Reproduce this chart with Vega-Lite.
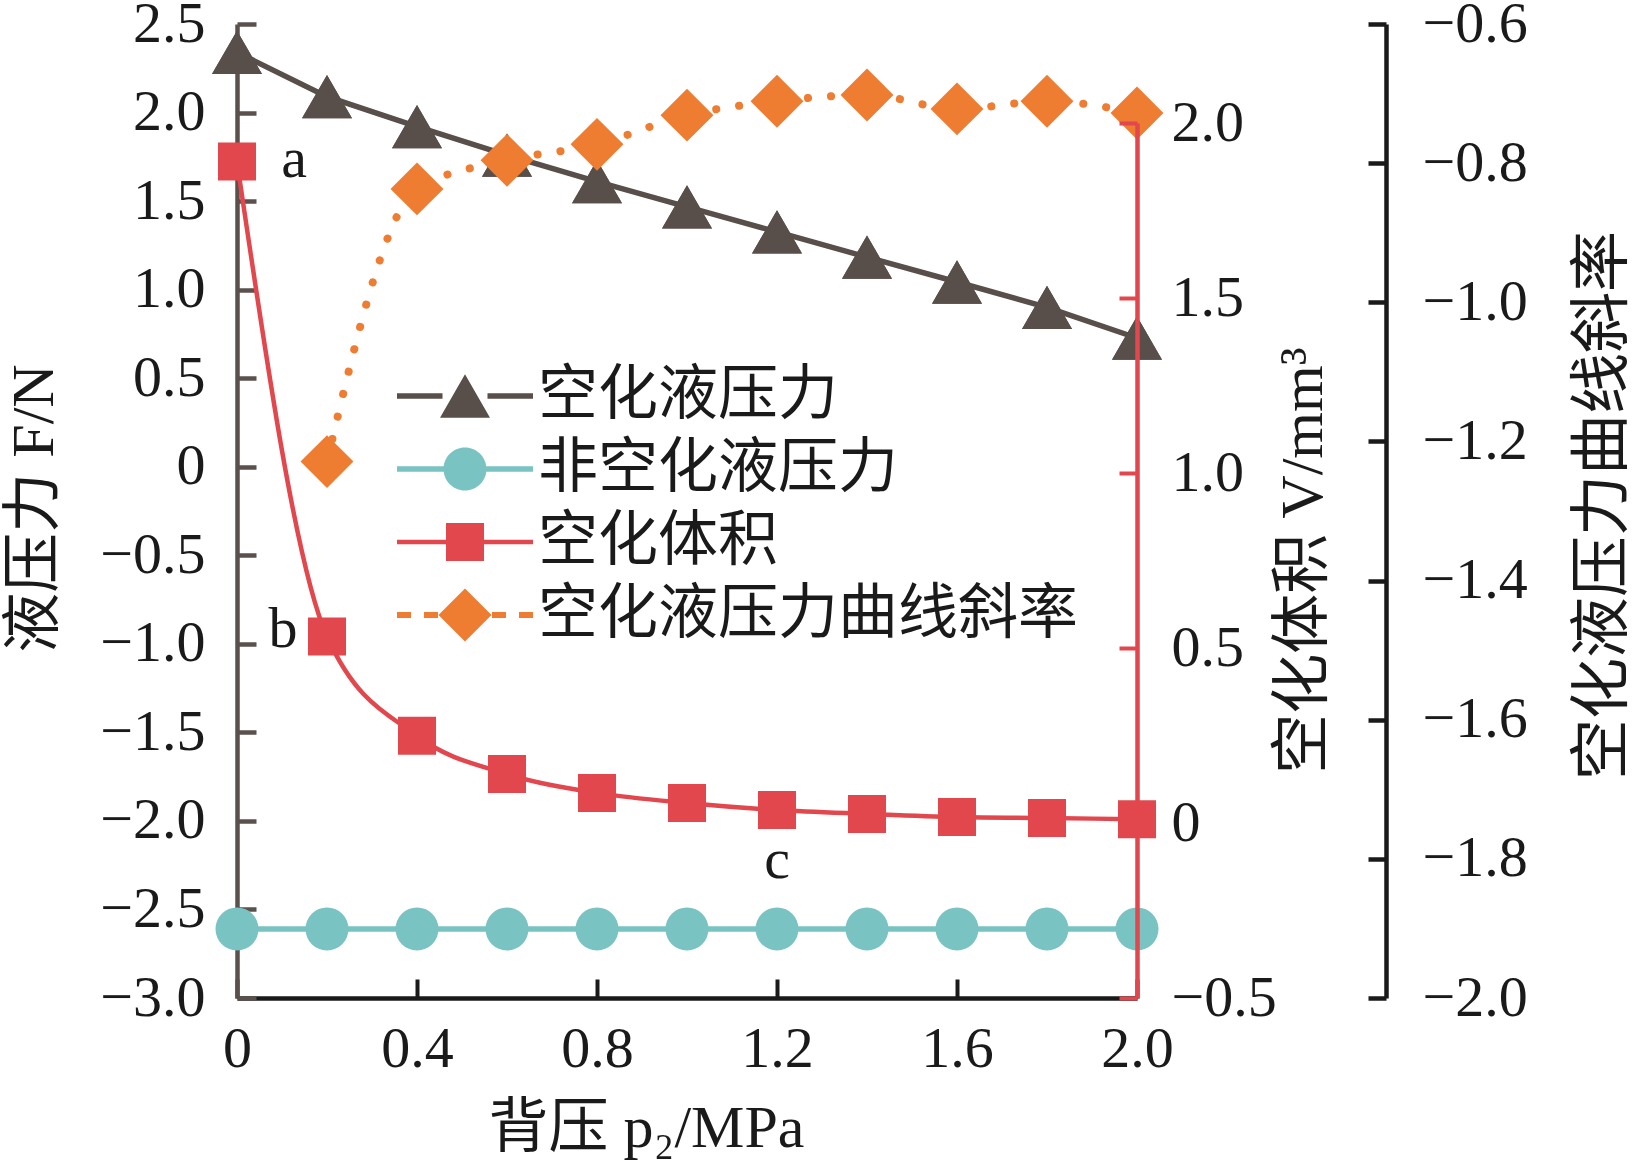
{
  "$schema": "https://vega.github.io/schema/vega-lite/v6.json",
  "width": 900,
  "height": 974,
  "autosize": "none",
  "padding": {"left": 237, "top": 24, "right": 496, "bottom": 164},
  "background": "white",
  "config": {
    "view": {"stroke": null},
    "axis": {
      "grid": false,
      "labelFont": "Liberation Serif",
      "labelFontSize": 58,
      "labelColor": "#1a1a1a",
      "titleFont": "Liberation Serif, Noto Sans CJK SC",
      "titleFontSize": 60,
      "titleFontWeight": "normal",
      "titleColor": "#1a1a1a",
      "labelFlush": false,
      "labelOverlap": false,
      "labelBound": false
    }
  },
  "datasets": {
    "main": [
      {"p": 0, "s": "空化液压力", "v": 2.34},
      {"p": 0.2, "s": "空化液压力", "v": 2.09},
      {"p": 0.4, "s": "空化液压力", "v": 1.92},
      {"p": 0.6, "s": "空化液压力", "v": 1.76},
      {"p": 0.8, "s": "空化液压力", "v": 1.61},
      {"p": 1.0, "s": "空化液压力", "v": 1.467},
      {"p": 1.2, "s": "空化液压力", "v": 1.326},
      {"p": 1.4, "s": "空化液压力", "v": 1.184},
      {"p": 1.6, "s": "空化液压力", "v": 1.043},
      {"p": 1.8, "s": "空化液压力", "v": 0.9},
      {"p": 2.0, "s": "空化液压力", "v": 0.727},
      {"p": 0, "s": "非空化液压力", "v": -2.61},
      {"p": 0.2, "s": "非空化液压力", "v": -2.61},
      {"p": 0.4, "s": "非空化液压力", "v": -2.61},
      {"p": 0.6, "s": "非空化液压力", "v": -2.61},
      {"p": 0.8, "s": "非空化液压力", "v": -2.61},
      {"p": 1.0, "s": "非空化液压力", "v": -2.61},
      {"p": 1.2, "s": "非空化液压力", "v": -2.61},
      {"p": 1.4, "s": "非空化液压力", "v": -2.61},
      {"p": 1.6, "s": "非空化液压力", "v": -2.61},
      {"p": 1.8, "s": "非空化液压力", "v": -2.61},
      {"p": 2.0, "s": "非空化液压力", "v": -2.61},
      {"p": 0, "s": "空化体积", "v": 1.89},
      {"p": 0.2, "s": "空化体积", "v": 0.533},
      {"p": 0.4, "s": "空化体积", "v": 0.249},
      {"p": 0.6, "s": "空化体积", "v": 0.14},
      {"p": 0.8, "s": "空化体积", "v": 0.086},
      {"p": 1.0, "s": "空化体积", "v": 0.057},
      {"p": 1.2, "s": "空化体积", "v": 0.037},
      {"p": 1.4, "s": "空化体积", "v": 0.026},
      {"p": 1.6, "s": "空化体积", "v": 0.017},
      {"p": 1.8, "s": "空化体积", "v": 0.014},
      {"p": 2.0, "s": "空化体积", "v": 0.011},
      {"p": 0.2, "s": "空化液压力曲线斜率", "v": -1.229},
      {"p": 0.4, "s": "空化液压力曲线斜率", "v": -0.837},
      {"p": 0.6, "s": "空化液压力曲线斜率", "v": -0.796},
      {"p": 0.8, "s": "空化液压力曲线斜率", "v": -0.773},
      {"p": 1.0, "s": "空化液压力曲线斜率", "v": -0.731},
      {"p": 1.2, "s": "空化液压力曲线斜率", "v": -0.711},
      {"p": 1.4, "s": "空化液压力曲线斜率", "v": -0.702},
      {"p": 1.6, "s": "空化液压力曲线斜率", "v": -0.722},
      {"p": 1.8, "s": "空化液压力曲线斜率", "v": -0.711},
      {"p": 2.0, "s": "空化液压力曲线斜率", "v": -0.728}
    ],
    "notes": [
      {"p": 0, "v": 1.89, "note": "a"},
      {"p": 0.2, "v": 0.533, "note": "b"},
      {"p": 1.2, "v": 0.037, "note": "c"}
    ]
  },
  "data": {"name": "main"},
  "encoding": {
    "x": {
      "field": "p",
      "type": "quantitative",
      "scale": {"domain": [0, 2], "nice": false, "zero": false},
      "axis": {
        "values": [0, 0.4, 0.8, 1.2, 1.6, 2.0],
        "labelExpr": "datum.value === 0 ? '0' : format(datum.value, '.1f')",
        "domainColor": "#1a1a1a",
        "domainWidth": 4.5,
        "tickColor": "#1a1a1a",
        "tickWidth": 4,
        "tickSize": -19,
        "labelPadding": 41,
        "title": "背压 p₂/MPa",
        "titleX": 409,
        "titleY": 130,
        "titleAlign": "center",
        "titleBaseline": "middle"
      }
    }
  },
  "layer": [
    {
      "encoding": {
        "y": {
          "field": "v",
          "type": "quantitative",
          "scale": {"domain": [-3, 2.5], "nice": false, "zero": false},
          "axis": {
            "orient": "left",
            "values": [-3, -2.5, -2, -1.5, -1, -0.5, 0, 0.5, 1, 1.5, 2, 2.5],
            "labelExpr": "datum.value === 0 ? '0' : format(datum.value, '.1f')",
            "domainColor": "#5a504c",
            "domainWidth": 4.5,
            "tickColor": "#5a504c",
            "tickWidth": 4.5,
            "tickSize": -19,
            "labelPadding": 51,
            "title": "液压力 F/N",
            "titleAngle": -90,
            "titleX": -203,
            "titleY": 484,
            "titleAlign": "center",
            "titleBaseline": "middle"
          }
        }
      },
      "layer": [
        {
          "transform": [{"filter": "datum.s === '非空化液压力'"}],
          "mark": {"type": "line", "color": "#79c3c3", "strokeWidth": 5.5},
          "encoding": {}
        },
        {
          "transform": [{"filter": "datum.s === '空化液压力'"}],
          "mark": {"type": "point", "shape": "triangle-up", "filled": true, "size": 2500, "opacity": 1},
          "encoding": {
            "color": {
              "field": "s",
              "type": "nominal",
              "scale": {
                "domain": ["空化液压力", "非空化液压力", "空化体积", "空化液压力曲线斜率"],
                "range": ["#584e4a", "#79c3c3", "#e2474d", "#ee7c31"]
              },
              "legend": {
                "orient": "none",
                "legendX": 198,
                "legendY": 342,
                "title": null,
                "padding": 0,
                "labelFont": "Noto Sans CJK SC",
                "labelFontSize": 60,
                "labelColor": "#1a1a1a",
                "labelLimit": 1000,
                "labelOffset": 43,
                "rowPadding": 13,
                "symbolSize": 2500,
                "symbolStrokeWidth": 0,
                "symbolOpacity": 1,
                "encode": {
                  "symbols": {
                    "update": {
                      "shape": {
                        "signal": "datum.value === '空化液压力' ? 'M-2.72,-0.11H-0.9V0.11H-2.72Z M0.9,-0.11H2.72V0.11H0.9Z M0,-0.866L1,0.866L-1,0.866Z' : datum.value === '非空化液压力' ? 'M-2.72,-0.11H-0.8V0.11H-2.72Z M0.8,-0.11H2.72V0.11H0.8Z M0.86,0A0.86,0.86,0,1,1,-0.86,0A0.86,0.86,0,1,1,0.86,0Z' : datum.value === '空化体积' ? 'M-2.72,-0.09H-0.76V0.09H-2.72Z M0.76,-0.09H2.72V0.09H0.76Z M-0.76,-0.76H0.76V0.76H-0.76Z' : 'M-2.72,-0.12H-2.16V0.12H-2.72Z M-1.64,-0.12H-1.08V0.12H-1.64Z M1.08,-0.12H1.64V0.12H1.08Z M2.16,-0.12H2.72V0.12H2.16Z M0,-1.06L1.06,0L0,1.06L-1.06,0Z'"
                      }
                    }
                  }
                }
              }
            }
          }
        },
        {
          "transform": [{"filter": "datum.s === '非空化液压力'"}],
          "mark": {"type": "point", "shape": "circle", "filled": true, "size": 1850, "opacity": 1},
          "encoding": {"color": {"field": "s", "type": "nominal"}}
        },
        {
          "transform": [{"filter": "datum.s === '空化液压力'"}],
          "mark": {"type": "line", "color": "#584e4a", "strokeWidth": 5.5},
          "encoding": {}
        },
        {
          "transform": [{"filter": "datum.s === '空化液压力'"}],
          "mark": {"type": "point", "shape": "triangle-up", "filled": true, "size": 2500, "opacity": 1},
          "encoding": {"color": {"field": "s", "type": "nominal"}}
        }
      ]
    },
    {
      "encoding": {
        "y": {
          "field": "v",
          "type": "quantitative",
          "scale": {"domain": [-0.5, 2], "range": [974, 99], "nice": false, "zero": false},
          "axis": {
            "orient": "right",
            "zindex": 1,
            "values": [-0.5, 0, 0.5, 1, 1.5, 2],
            "labelExpr": "datum.value === 0 ? '0' : format(datum.value, '.1f')",
            "domainColor": "#e2474d",
            "domainWidth": 4.5,
            "tickColor": "#e2474d",
            "tickWidth": 4,
            "tickSize": -18,
            "labelPadding": 52,
            "title": "空化体积 V/mm³",
            "titleFontSize": 60,
            "titleAngle": -90,
            "titleX": 166,
            "titleY": 536,
            "titleAlign": "center",
            "titleBaseline": "middle"
          }
        }
      },
      "layer": [
        {
          "transform": [{"filter": "datum.s === '空化体积'"}],
          "mark": {"type": "line", "interpolate": "monotone", "color": "#e2474d", "strokeWidth": 4.5},
          "encoding": {}
        },
        {
          "transform": [{"filter": "datum.s === '空化体积'"}],
          "mark": {"type": "point", "shape": "square", "filled": true, "size": 1444, "opacity": 1},
          "encoding": {"color": {"field": "s", "type": "nominal"}}
        },
        {
          "data": {"name": "notes"},
          "transform": [{"filter": "datum.note === 'a'"}],
          "mark": {"type": "text", "font": "Liberation Serif", "fontSize": 58, "color": "#1a1a1a", "align": "center", "baseline": "middle", "dx": 57, "dy": -2},
          "encoding": {"text": {"field": "note"}}
        },
        {
          "data": {"name": "notes"},
          "transform": [{"filter": "datum.note === 'b'"}],
          "mark": {"type": "text", "font": "Liberation Serif", "fontSize": 58, "color": "#1a1a1a", "align": "center", "baseline": "middle", "dx": -44, "dy": -6},
          "encoding": {"text": {"field": "note"}}
        },
        {
          "data": {"name": "notes"},
          "transform": [{"filter": "datum.note === 'c'"}],
          "mark": {"type": "text", "font": "Liberation Serif", "fontSize": 58, "color": "#1a1a1a", "align": "center", "baseline": "middle", "dx": 0, "dy": 51},
          "encoding": {"text": {"field": "note"}}
        }
      ]
    },
    {
      "encoding": {
        "y": {
          "field": "v",
          "type": "quantitative",
          "scale": {"domain": [-2, -0.6], "nice": false, "zero": false},
          "axis": {
            "orient": "right",
            "offset": 249,
            "values": [-2, -1.8, -1.6, -1.4, -1.2, -1, -0.8, -0.6],
            "format": ".1f",
            "domainColor": "#1a1a1a",
            "domainWidth": 4.5,
            "tickColor": "#1a1a1a",
            "tickWidth": 4.5,
            "tickSize": -18,
            "labelPadding": 54,
            "title": "空化液压力曲线斜率",
            "titleFontSize": 61,
            "titleAngle": -90,
            "titleX": 217,
            "titleY": 481,
            "titleAlign": "center",
            "titleBaseline": "middle"
          }
        }
      },
      "layer": [
        {
          "transform": [{"filter": "datum.s === '空化液压力曲线斜率'"}],
          "mark": {"type": "line", "interpolate": "monotone", "color": "#ee7c31", "strokeWidth": 8, "strokeDash": [0.1, 23], "strokeCap": "round"},
          "encoding": {}
        },
        {
          "transform": [{"filter": "datum.s === '空化液压力曲线斜率'"}],
          "mark": {"type": "point", "shape": "diamond", "filled": true, "size": 2800, "opacity": 1},
          "encoding": {"color": {"field": "s", "type": "nominal"}}
        }
      ]
    }
  ],
  "resolve": {"scale": {"y": "independent"}}
}
